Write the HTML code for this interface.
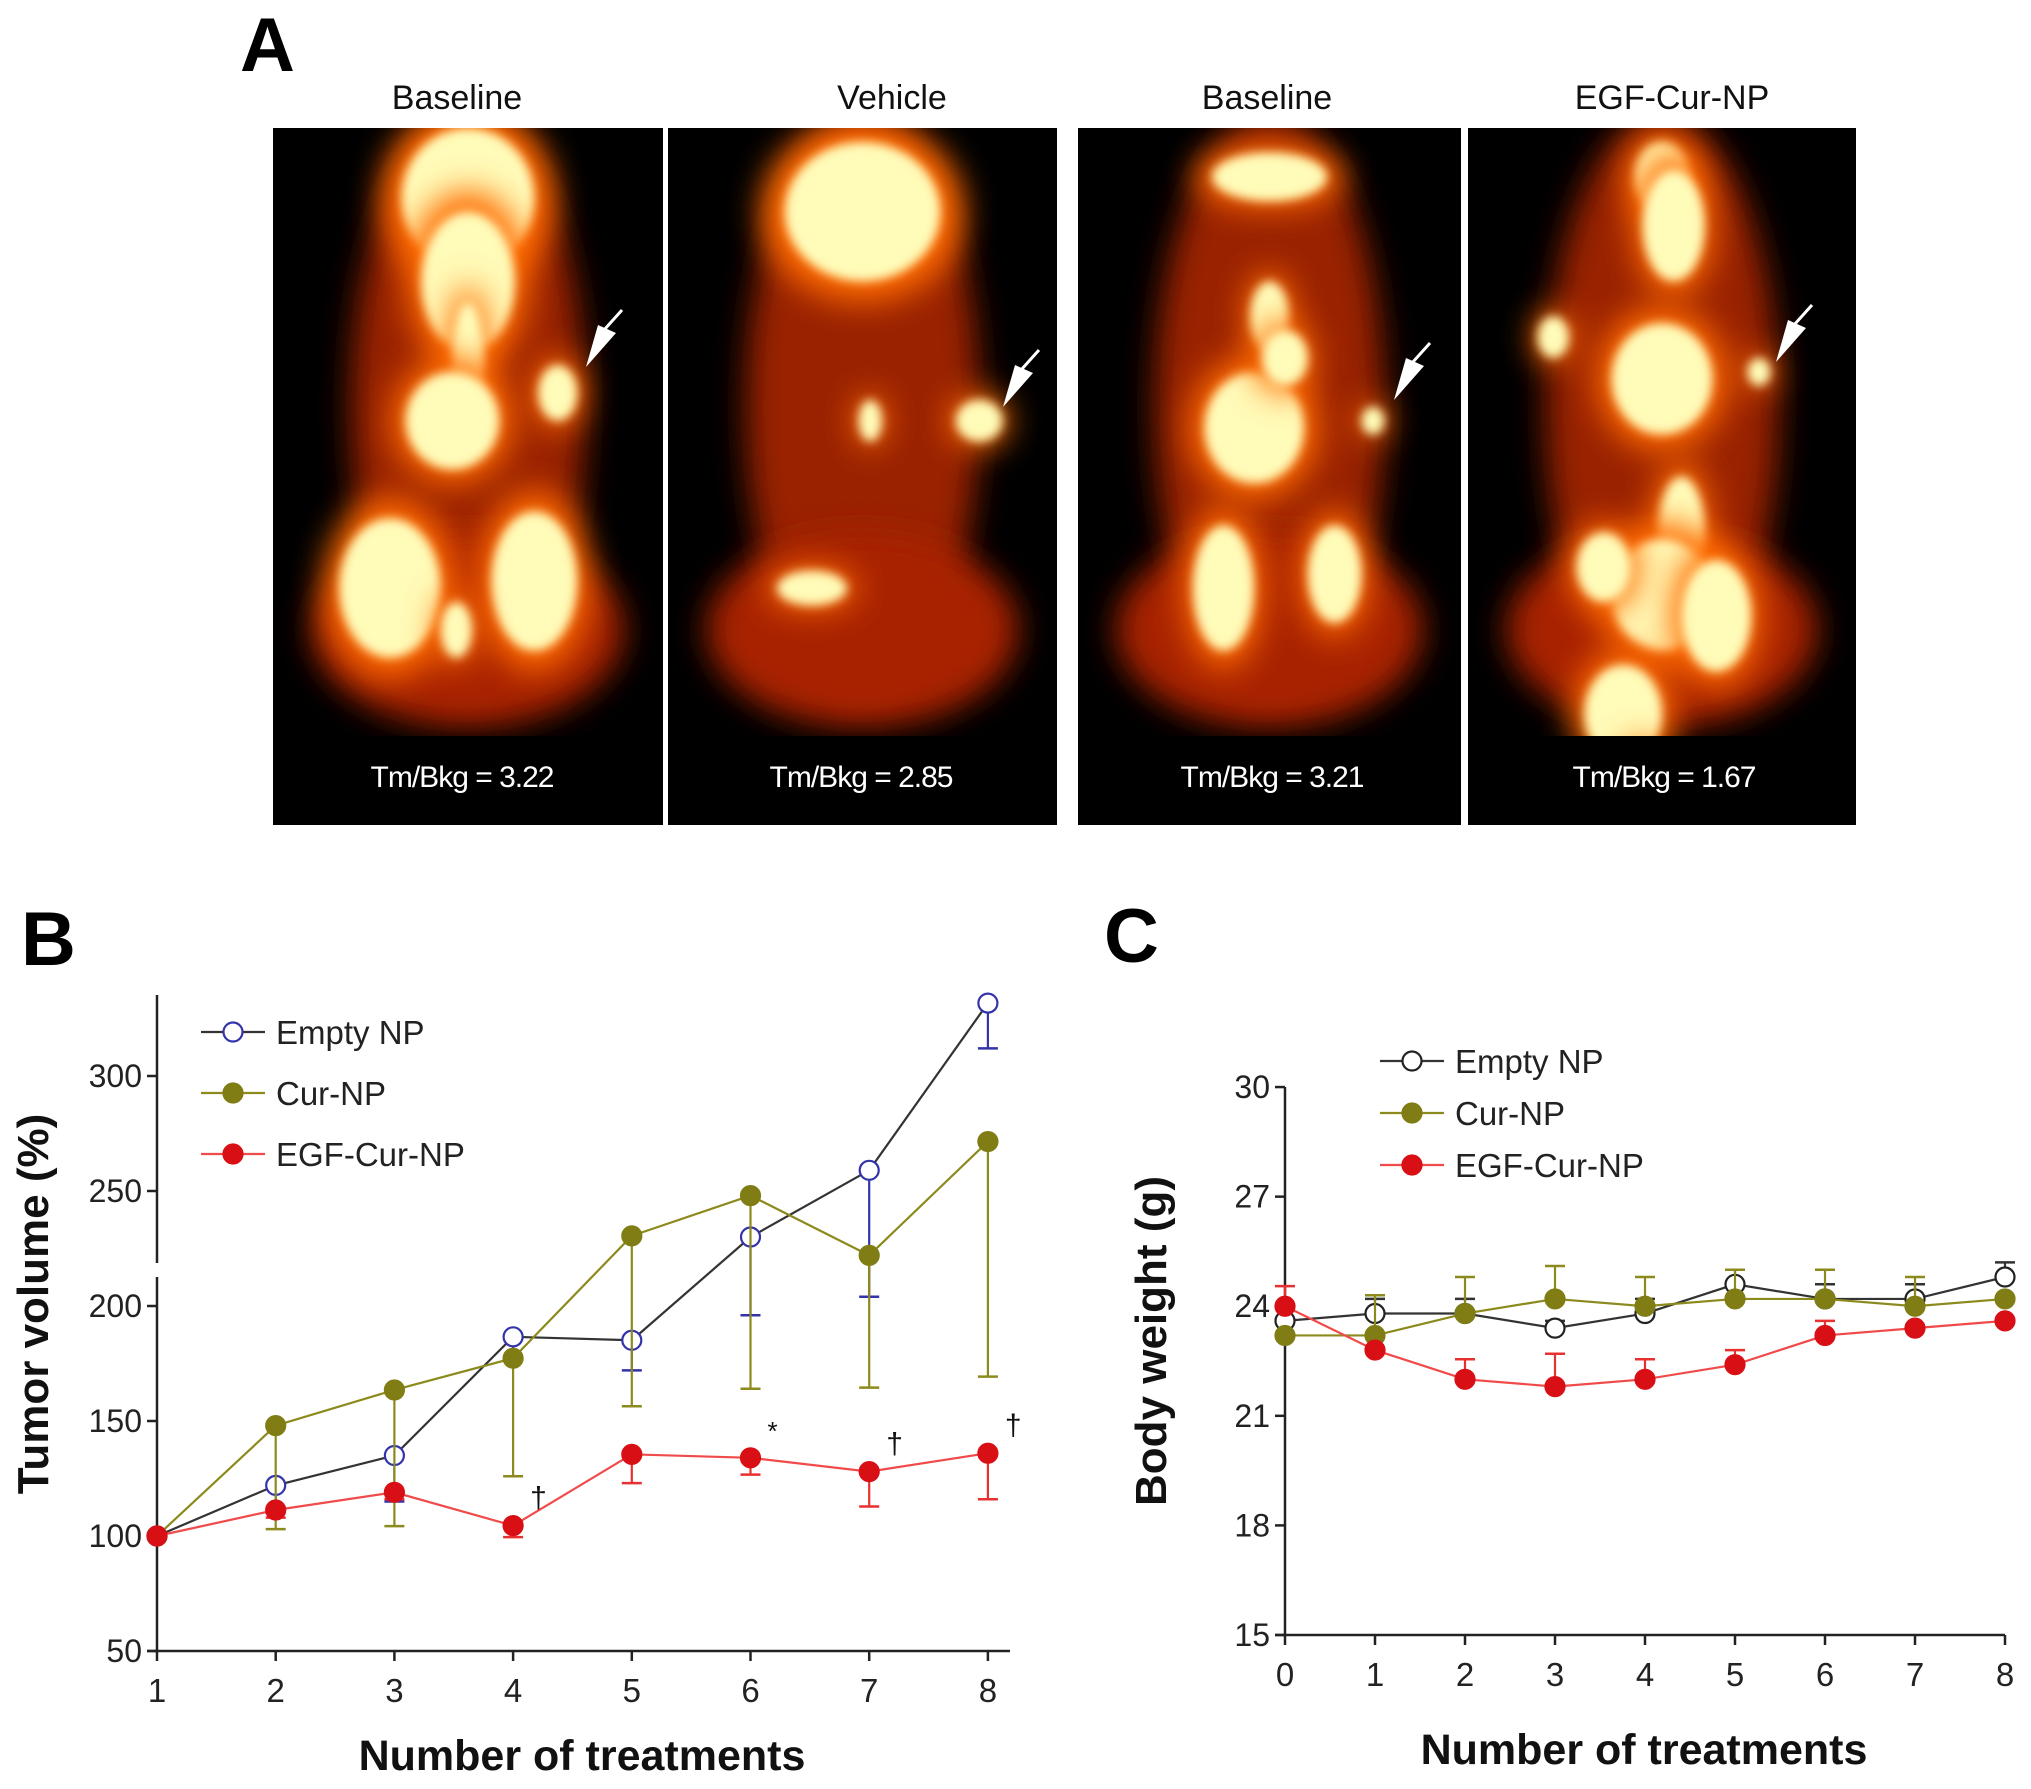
<!DOCTYPE html>
<html><head><meta charset="utf-8">
<style>
html,body{margin:0;padding:0;background:#fff;}
#root{position:relative;width:2031px;height:1789px;overflow:hidden;font-family:"Liberation Sans",Arial,sans-serif;}
svg{position:absolute;left:0;top:0;}
</style></head>
<body>
<div id="root">
<svg id="fig" width="2031" height="1789" viewBox="0 0 2031 1789">
<defs id="defs">
<filter id="blurA" filterUnits="userSpaceOnUse" x="0" y="0" width="2031" height="1000"><feGaussianBlur stdDeviation="16"/></filter>
<filter id="blurB" filterUnits="userSpaceOnUse" x="0" y="0" width="2031" height="1000"><feGaussianBlur stdDeviation="5"/></filter>
</defs>
<g id="panelA"></g>
<g id="panelB"></g>
<g id="panelC"></g>
</svg>
</div>
<script>
// ---------- Panel B data ----------
const bCategories = [1,2,3,4,5,6,7,8];
const bYTicks = [50,100,150,200,250,300];
const bEmpty = [100,122,135,186.6,185.1,230,259,331.7];
const bEmptyLow = [100,110,115,178,172,196,204,312];
const bCur = [100,148,163.5,177.3,230.5,248,222,271.5];
const bCurLow = [100,103,104.3,126,156.4,164,164.5,169.3];
const bEgf = [100,111.3,119,104.5,135.5,134,128,136];
const bEgfLow = [100,108,116,99.5,123,126.7,112.8,116];
const bMarks = [null,null,null,"†",null,"*","†","†"];
// ---------- Panel C data ----------
const cCategories = [0,1,2,3,4,5,6,7,8];
const cYTicks = [15,18,21,24,27,30];
const cEmpty = [23.6,23.8,23.8,23.4,23.8,24.6,24.2,24.2,24.8];
const cEmptyHigh = [23.6,24.2,24.2,23.6,24.2,25.0,24.6,24.6,25.2];
const cCur = [23.2,23.2,23.8,24.2,24.0,24.2,24.2,24.0,24.2];
const cCurHigh = [23.2,24.3,24.8,25.1,24.8,25.0,25.0,24.8,24.2];
const cEgf = [24.0,22.8,22.0,21.8,22.0,22.4,23.2,23.4,23.6];
const cEgfHigh = [24.55,22.8,22.55,22.7,22.55,22.8,23.6,23.4,23.6];

const NS="http://www.w3.org/2000/svg";
function mk(parent,tag,attrs,text){const e=document.createElementNS(NS,tag);for(const k in attrs)e.setAttribute(k,attrs[k]);if(text!=null)e.textContent=text;parent.appendChild(e);return e;}

// ---------- Panel A ----------
const A=document.getElementById('panelA');
const defs=document.getElementById('defs');
let t=mk(A,'text',{x:240,y:71,'font-size':76,'font-weight':'bold',fill:'#000'},'A');


const panels=[
 {x:273,w:390,tx:457,rx:462,title:"Baseline",ratio:"Tm/Bkg = 3.22",blobs:[[0.5,0.1,0.17,0.1],[0.5,0.22,0.12,0.1],[0.5,0.33,0.04,0.08],[0.46,0.42,0.12,0.07],[0.73,0.38,0.05,0.04],[0.3,0.66,0.13,0.1],[0.67,0.65,0.11,0.1],[0.47,0.72,0.04,0.04]]},
 {x:668,w:389,tx:892,rx:861,title:"Vehicle",ratio:"Tm/Bkg = 2.85",blobs:[[0.5,0.12,0.2,0.1],[0.8,0.42,0.06,0.03],[0.37,0.66,0.09,0.025],[0.52,0.42,0.03,0.03]]},
 {x:1078,w:383,tx:1267,rx:1272,title:"Baseline",ratio:"Tm/Bkg = 3.21",blobs:[[0.5,0.07,0.15,0.035],[0.46,0.43,0.13,0.08],[0.5,0.27,0.05,0.05],[0.54,0.33,0.06,0.04],[0.67,0.64,0.07,0.07],[0.38,0.66,0.08,0.09],[0.77,0.42,0.03,0.02]]},
 {x:1468,w:388,tx:1672,rx:1664,title:"EGF-Cur-NP",ratio:"Tm/Bkg = 1.67",blobs:[[0.5,0.07,0.07,0.05],[0.53,0.14,0.08,0.08],[0.5,0.36,0.13,0.08],[0.75,0.35,0.03,0.02],[0.22,0.3,0.04,0.03],[0.55,0.58,0.06,0.08],[0.5,0.67,0.13,0.08],[0.35,0.63,0.07,0.05],[0.64,0.7,0.09,0.08],[0.4,0.84,0.1,0.07],[0.45,0.93,0.05,0.04]]}
];
const aTop=128,aH=697;
panels.forEach((p,i)=>{
  const cp=mk(defs,'clipPath',{id:'clipA'+i});
  mk(cp,'rect',{x:p.x,y:aTop,width:p.w,height:aH});
  const g=mk(A,'g',{'clip-path':'url(#clipA'+i+')'});
  
  
  mk(g,'rect',{x:p.x,y:aTop,width:p.w,height:aH,fill:'#000'});
  mk(g,'ellipse',{cx:p.x+p.w*0.5,cy:aTop+aH*0.4,rx:p.w*0.3,ry:aH*0.42,fill:'#9a2000',filter:'url(#blurA)'});
  mk(g,'ellipse',{cx:p.x+p.w*0.5,cy:aTop+aH*0.72,rx:p.w*0.4,ry:aH*0.14,fill:'#a82400',filter:'url(#blurA)'});
  p.blobs.forEach(b=>{
    mk(g,'ellipse',{cx:p.x+p.w*b[0],cy:aTop+aH*b[1],rx:p.w*b[2]*1.3,ry:aH*b[3]*1.3,fill:'#ff6a00',filter:'url(#blurA)'});
    mk(g,'ellipse',{cx:p.x+p.w*b[0],cy:aTop+aH*b[1],rx:p.w*b[2],ry:aH*b[3],fill:'#fffbb8',filter:'url(#blurB)'});
  });
  mk(g,'rect',{x:p.x+p.w*0.05,y:736,width:p.w*0.9,height:89,fill:'#000'});
  const tt=mk(A,'text',{x:p.tx,y:109,'font-size':34,'text-anchor':'middle',fill:'#111'},p.title);
  
  
  const rt=mk(A,'text',{x:p.rx,y:787,'font-size':30,'text-anchor':'middle',fill:'#fff','letter-spacing':'-1'},p.ratio);
  
  
});
[[600,345],[1017,385],[1408,378],[1790,340]].forEach((a,i)=>{
  const ar=mk(A,'g',{});
  
  
  mk(ar,'polygon',{points:`${a[0]-14},${a[1]+22} ${a[0]+16},${a[1]-12} ${a[0]-2},${a[1]-20}`,fill:'#fff'});
  mk(ar,'line',{x1:a[0]+4,y1:a[1]-15,x2:a[0]+22,y2:a[1]-35,stroke:'#fff','stroke-width':3});
});

// ---------- Generic chart ----------
function chart(G,cfg){
  const xS=v=>cfg.x0+(v-cfg.xMin)*cfg.xStep;
  const yS=v=>cfg.yBot-(v-cfg.yMin)*cfg.yPer;
  let e;
  if(cfg.breakY){
    e=mk(G,'line',{x1:cfg.x0,y1:cfg.yTop,x2:cfg.x0,y2:cfg.breakY[0],stroke:'#222','stroke-width':2.5});
    
    e=mk(G,'line',{x1:cfg.x0,y1:cfg.breakY[1],x2:cfg.x0,y2:cfg.yBot,stroke:'#222','stroke-width':2.5});
    
  } else {
    e=mk(G,'line',{x1:cfg.x0,y1:cfg.yTop,x2:cfg.x0,y2:cfg.yBot,stroke:'#222','stroke-width':2.5});
    
  }
  e=mk(G,'line',{x1:cfg.x0-10,y1:cfg.yBot,x2:cfg.xEnd,y2:cfg.yBot,stroke:'#222','stroke-width':2.5});
  
  cfg.yTicks.forEach(v=>{
    mk(G,'line',{x1:cfg.x0-10,y1:yS(v),x2:cfg.x0,y2:yS(v),stroke:'#222','stroke-width':2.5});
    const tx=mk(G,'text',{x:cfg.x0-15,y:yS(v)+11,'font-size':32,'text-anchor':'end',fill:'#222'},v);
    
  });
  cfg.cats.forEach(v=>{
    mk(G,'line',{x1:xS(v),y1:cfg.yBot,x2:xS(v),y2:cfg.yBot+10,stroke:'#222','stroke-width':2.5});
    const tx=mk(G,'text',{x:xS(v),y:cfg.yBot+51,'font-size':33,'text-anchor':'middle',fill:'#222'},v);
    
  });
  cfg.series.forEach(s=>{
    const sg=mk(G,'g',{});
    
    cfg.cats.forEach((c,i)=>{
      const v=s.vals[i],e2=s.err[i];
      if(Math.abs(e2-v)<0.01)return;
      mk(sg,'line',{x1:xS(c),y1:yS(v),x2:xS(c),y2:yS(e2),stroke:s.errColor,'stroke-width':2.2});
      const eb=mk(sg,'line',{x1:xS(c)-10,y1:yS(e2),x2:xS(c)+10,y2:yS(e2),stroke:s.errColor,'stroke-width':2.5});
      
    });
    const pts=cfg.cats.map((c,i)=>xS(c)+','+yS(s.vals[i])).join(' ');
    const pl=mk(sg,'polyline',{points:pts,fill:'none',stroke:s.line,'stroke-width':2.2});
    
    cfg.cats.forEach((c,i)=>{
      const m=mk(sg,'circle',{cx:xS(c),cy:yS(s.vals[i]),r:9.5,fill:s.fill,stroke:s.stroke,'stroke-width':2.2});
      
    });
  });
  cfg.series.forEach((s,i)=>{
    const lg=mk(G,'g',{});
    
    const ly=cfg.legY+i*cfg.legGap;
    mk(lg,'line',{x1:cfg.legX,y1:ly,x2:cfg.legX+64,y2:ly,stroke:s.line,'stroke-width':2.2});
    mk(lg,'circle',{cx:cfg.legX+32,cy:ly,r:9.5,fill:s.fill,stroke:s.stroke,'stroke-width':2.2});
    mk(lg,'text',{x:cfg.legX+75,y:ly+12,'font-size':33,fill:'#222'},s.name);
  });
  return {xS,yS};
}

// ---------- Panel B ----------
const B=document.getElementById('panelB');
t=mk(B,'text',{x:21,y:965,'font-size':76,'font-weight':'bold',fill:'#000'},'B');

const bAx=chart(B,{x0:157,xMin:1,xStep:118.7,xEnd:1010,yBot:1651,yMin:50,yPer:2.3,yTop:995,breakY:[1263,1277],
  yTicks:bYTicks,cats:bCategories,legX:201,legY:1032,legGap:61,
  series:[
   {key:'empty-np',name:'Empty NP',vals:bEmpty,err:bEmptyLow,line:'#333',errColor:'#3333aa',fill:'#fff',stroke:'#3333aa'},
   {key:'cur-np',name:'Cur-NP',vals:bCur,err:bCurLow,line:'#8c8a1c',errColor:'#8c8a1c',fill:'#7f7d14',stroke:'#7f7d14'},
   {key:'egf-cur-np',name:'EGF-Cur-NP',vals:bEgf,err:bEgfLow,line:'#f04a4a',errColor:'#e83030',fill:'#d80f14',stroke:'#d80f14'}
  ]});
bCategories.forEach((c,i)=>{
  if(!bMarks[i])return;
  const m=mk(B,'text',{x:bAx.xS(c)+17,y:bAx.yS(bEgf[i])-18,'font-size':bMarks[i]==='*'?26:30,fill:'#111'},bMarks[i]);
  
});
t=mk(B,'text',{x:0,y:0,'font-size':44,'font-weight':'bold','text-anchor':'middle',fill:'#111',transform:'translate(48,1304) rotate(-90)'},'Tumor volume (%)');

t=mk(B,'text',{x:582,y:1770,'font-size':43,'font-weight':'bold','text-anchor':'middle',fill:'#111'},'Number of treatments');


// ---------- Panel C ----------
const C=document.getElementById('panelC');
t=mk(C,'text',{x:1104,y:962,'font-size':76,'font-weight':'bold',fill:'#000'},'C');

chart(C,{x0:1285,xMin:0,xStep:90,xEnd:2005,yBot:1635,yMin:15,yPer:36.53,yTop:1087,
  yTicks:cYTicks,cats:cCategories,legX:1380,legY:1061,legGap:52,
  series:[
   {key:'empty-np',name:'Empty NP',vals:cEmpty,err:cEmptyHigh,line:'#333',errColor:'#333',fill:'#fff',stroke:'#222'},
   {key:'cur-np',name:'Cur-NP',vals:cCur,err:cCurHigh,line:'#8c8a1c',errColor:'#8c8a1c',fill:'#7f7d14',stroke:'#7f7d14'},
   {key:'egf-cur-np',name:'EGF-Cur-NP',vals:cEgf,err:cEgfHigh,line:'#f04a4a',errColor:'#e83030',fill:'#d80f14',stroke:'#d80f14'}
  ]});
t=mk(C,'text',{x:0,y:0,'font-size':44,'font-weight':'bold','text-anchor':'middle',fill:'#111',transform:'translate(1166,1341) rotate(-90)'},'Body weight (g)');

t=mk(C,'text',{x:1644,y:1764,'font-size':43,'font-weight':'bold','text-anchor':'middle',fill:'#111'},'Number of treatments');

</script>
</body></html>
